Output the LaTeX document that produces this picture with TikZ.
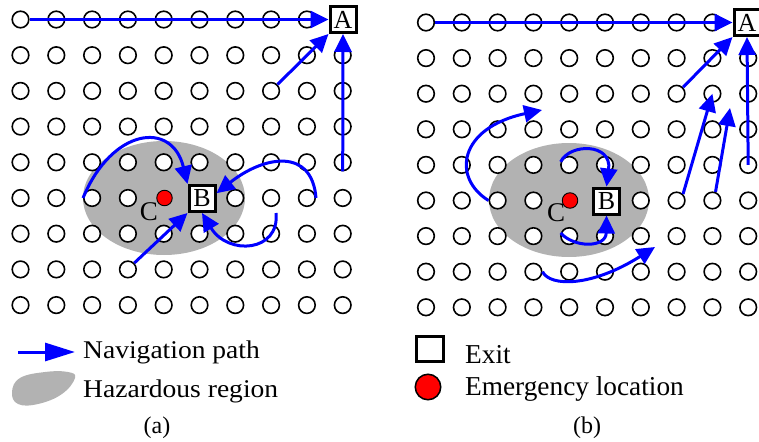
\documentclass[tikz,border=0pt]{standalone}
\usepackage{fontspec}
\setmainfont{Liberation Serif}
\usetikzlibrary{arrows.meta,calc}
\definecolor{hazard}{RGB}{178,178,178}
\definecolor{navblue}{RGB}{0,0,255}
\begin{document}
\begin{tikzpicture}[x=1pt,y=-1pt,
  cell/.style={circle,draw=black,fill=white,line width=1.6pt,minimum size=16.6pt,inner sep=0pt},
  exitbox/.style={draw=black,fill=white,line width=3pt,minimum size=26pt,inner sep=0pt,font=\fontsize{26}{26}\selectfont},
  spot/.style={circle,draw=black,fill=red,line width=0.9pt,minimum size=15.5pt,inner sep=0pt},
  tag/.style={inner sep=0pt,font=\fontsize{27}{27}\selectfont},
  nav/.style={draw=navblue,line width=3pt,-{Triangle[length=18pt,width=17pt]}},
  legtxt/.style={anchor=base west,inner sep=0pt,font=\fontsize{25.5}{30}\selectfont},
  captxt/.style={anchor=base,inner sep=0pt,font=\fontsize{24}{28}\selectfont}]
\useasboundingbox (0,0) rectangle (759,441);

% ---------- panel (a) ----------
\fill[hazard] (164,198) ellipse [x radius=81, y radius=57];
\foreach \c in {1,...,10}{
  \foreach \r in {1,...,9}{
    \pgfmathtruncatemacro\code{\c*10+\r}
    \ifnum\code=101\relax\else\ifnum\code=66\relax\else\ifnum\code=56\relax\else
      \node[cell] (a\c-\r) at ({20.5+35.8*(\c-1)},{19.5+35.7*(\r-1)}) {};
    \fi\fi\fi
  }
}
\node[exitbox] (aA) at (343,19.5) {A};
\node[exitbox] (aB) at (202,198.5) {B};
\node[spot] (aC) at (164.5,198) {};
\node[tag] (aClbl) at (149,212) {C};
\coordinate (aS6) at (276,213);

\draw[nav] (a1-1.east) -- (aA.west);
\draw[nav] (a8-3.north east) -- (aA.south west);
\draw[nav] (a10-5.south) -- (aA.south);
\draw[nav] (a3-6.west) .. controls (112,128) and (172,120) .. (aB.north west);
\draw[nav] (a9-6.east) .. controls (312,148) and (265,155) .. (aB.20);
\draw[nav] (aS6) .. controls (280,252) and (228,256) .. (aB.south);
\draw[nav] (a4-8.north east) -- (aB.south west);

% ---------- panel (b) ----------
\fill[hazard] (569,200) ellipse [x radius=80, y radius=57];
\foreach \c in {1,...,10}{
  \foreach \r in {1,...,9}{
    \pgfmathtruncatemacro\code{\c*10+\r}
    \ifnum\code=101\relax\else\ifnum\code=66\relax\else\ifnum\code=56\relax\else
      \node[cell] (b\c-\r) at ({426+35.8*(\c-1)},{22.5+35.6*(\r-1)}) {};
    \fi\fi\fi
  }
}
\node[exitbox] (bA) at (747,22.5) {A};
\node[exitbox] (bB) at (606.5,201) {B};
\node[spot] (bC) at (570,200.5) {};
\node[tag] (bClbl) at (556,213) {C};
\coordinate (bT5) at (730,108);
\coordinate (bT6) at (542,110);
\coordinate (bT9) at (655,247);

\draw[nav] (b1-1.east) -- (bA.west);
\draw[nav] (b8-3.north east) -- (bA.south west);
\draw[nav] (b10-5.center) -- (bA.south);
\draw[nav] (b8-6.north east) -- (b9-3.center);
\draw[nav] (b9-6.70) -- (bT5);
\draw[nav] (b3-6.west) .. controls (452,178) and (458,128) .. (bT6);
\draw[nav] (b5-5.160) .. controls (570,143) and (612,143) .. (bB.north);
\draw[nav] (b5-7.160) .. controls (574,248) and (606,248) .. (bB.south);
\draw[nav] (b4-8.east) .. controls (550,287) and (592,287) .. (bT9);

% ---------- legend ----------
\coordinate (lgA) at (18,352);
\coordinate (lgB) at (75,352);
\draw[draw=navblue,line width=3pt,-{Triangle[length=30pt,width=18pt]}] (lgA) -- (lgB);
\node[legtxt] (lgNav) at (83,358) {\scalebox{1.08}[1]{Navigation path}};
\fill[hazard] plot[smooth cycle,tension=0.7] coordinates {(12,392) (20,378) (45,372) (68,372) (75,378) (62,394) (38,404) (18,404)};
\node[legtxt] (lgHaz) at (83,397) {\scalebox{1.08}[1]{Hazardous region}};
\node[draw=black,fill=white,line width=3.2pt,minimum width=27pt,minimum height=25pt,inner sep=0pt] (lgExit) at (430,349) {};
\node[legtxt,font=\fontsize{27.3}{30}\selectfont] (lgExitTxt) at (465,363) {Exit};
\node[circle,draw=black,fill=red,line width=1.5pt,minimum size=25.5pt,inner sep=0pt] (lgSpot) at (428,387) {};
\node[legtxt,font=\fontsize{27.3}{30}\selectfont] (lgSpotTxt) at (465,395) {Emergency location};
\node[captxt] (capA) at (157,433) {(a)};
\node[captxt] (capB) at (587,433) {(b)};
\end{tikzpicture}
\end{document}
